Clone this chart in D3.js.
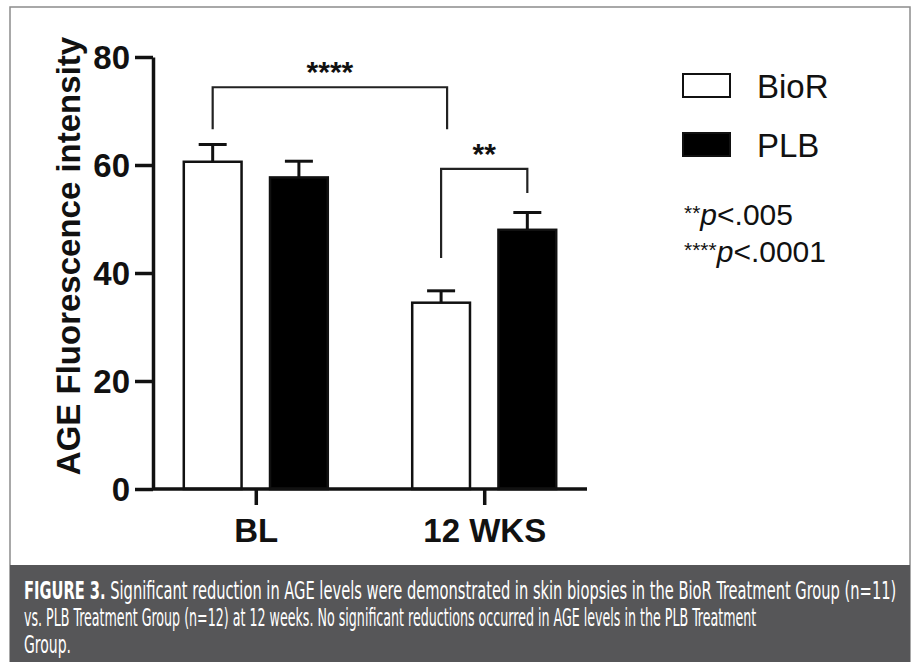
<!DOCTYPE html>
<html>
<head>
<meta charset="utf-8">
<script src="https://cdn.jsdelivr.net/npm/d3@7"></script>
<style>
  body { margin: 0; background: #fff; }
  text { font-family: "Liberation Sans", Arial, sans-serif; }
</style>
</head>
<body>
<svg id="chart" width="913" height="662"></svg>
<script>
// data
var groups = ["BL", "12 WKS"];
var series = ["BioR", "PLB"];
var means = {"BL": [60.6, 57.7], "12 WKS": [34.5, 48.0]};
var errors = {"BL": [3.2, 3.0], "12 WKS": [2.2, 3.2]};
var yTicks = [0, 20, 40, 60, 80];
var fills = ["#ffffff", "#000000"];

// significance brackets: [group, series] at each end, top and leg ends in data units
var brackets = [
  {from: ["BL", "BioR"], to: ["12 WKS", "BioR"], top: 74.4, leftEnd: 66.6, rightEnd: 66.6, label: "****"},
  {from: ["12 WKS", "BioR"], to: ["12 WKS", "PLB"], top: 59.3, leftEnd: 42.8, rightEnd: 54.8, label: "**"}
];
var pNotes = [["**", "p", "<.005"], ["****", "p", "<.0001"]];
var captionLines = [
  {bold: "FIGURE 3.", rest: " Significant reduction in AGE levels were demonstrated in skin biopsies in the BioR Treatment Group (n=11)", len: 873},
  {bold: "", rest: "vs. PLB Treatment Group (n=12) at 12 weeks. No significant reductions occurred in AGE levels in the PLB Treatment", len: 733},
  {bold: "", rest: "Group.", len: 47}
];

var svg = d3.select("#chart");

// outer frame and caption panel
svg.append("rect")
  .attr("x", 10).attr("y", 7)
  .attr("width", 900).attr("height", 660)
  .attr("fill", "#fff")
  .attr("stroke", "#8c8c8c")
  .attr("stroke-width", 1.5);
svg.append("rect")
  .attr("x", 10).attr("y", 565)
  .attr("width", 900).attr("height", 97)
  .attr("fill", "#565658");

var axisX = 153, axisRight = 587, baseY = 489, topY = 57;

var y = d3.scaleLinear().domain([0, 80]).range([baseY, topY]);
var x0 = d3.scalePoint().domain(groups).range([axisX, axisRight]).padding(0.45);
var x1 = d3.scaleBand().domain(series).range([-72, 72]).paddingInner(0.33);

function barCenter(g, s) { return x0(g) + x1(s) + x1.bandwidth() / 2; }

var rows = [];
groups.forEach(function(g) {
  series.forEach(function(s, i) {
    rows.push({group: g, series: s, i: i, value: means[g][i], err: errors[g][i]});
  });
});

// error bars (drawn first so the bar outline sits over the stem)
var eb = svg.append("g").attr("stroke", "#111").attr("stroke-width", 3);
eb.selectAll("line.stem")
  .data(rows).enter().append("line")
  .attr("class", "stem")
  .attr("x1", function(d) { return barCenter(d.group, d.series); })
  .attr("x2", function(d) { return barCenter(d.group, d.series); })
  .attr("y1", function(d) { return y(d.value); })
  .attr("y2", function(d) { return y(d.value + d.err); });
eb.selectAll("line.cap")
  .data(rows).enter().append("line")
  .attr("class", "cap")
  .attr("x1", function(d) { return barCenter(d.group, d.series) - 14; })
  .attr("x2", function(d) { return barCenter(d.group, d.series) + 14; })
  .attr("y1", function(d) { return y(d.value + d.err); })
  .attr("y2", function(d) { return y(d.value + d.err); });

// bars
svg.selectAll("rect.bar")
  .data(rows).enter().append("rect")
  .attr("class", "bar")
  .attr("x", function(d) { return x0(d.group) + x1(d.series); })
  .attr("width", x1.bandwidth())
  .attr("y", function(d) { return y(d.value); })
  .attr("height", function(d) { return baseY - y(d.value); })
  .attr("fill", function(d) { return fills[d.i]; })
  .attr("stroke", "#111")
  .attr("stroke-width", 2.5);

// axes
var yAxis = svg.append("g")
  .attr("transform", "translate(" + axisX + ",0)")
  .call(d3.axisLeft(y).tickValues(yTicks).tickSize(18).tickSizeOuter(0).tickPadding(5));
var xAxis = svg.append("g")
  .attr("transform", "translate(0," + baseY + ")")
  .call(d3.axisBottom(x0).tickSize(16).tickSizeOuter(0).tickPadding(9));
xAxis.select(".domain").attr("d", "M" + axisX + ",0H" + axisRight);

[yAxis, xAxis].forEach(function(a) {
  a.select(".domain").attr("stroke", "#111").attr("stroke-width", 3.5);
  a.selectAll(".tick line").attr("stroke", "#111").attr("stroke-width", 3.5);
  a.selectAll(".tick text")
    .attr("fill", "#111")
    .style("font-size", "33px")
    .style("font-weight", "bold")
    .style("font-family", "'Liberation Sans', Arial, sans-serif");
});
yAxis.selectAll(".tick text").attr("dy", "0.35em");
xAxis.selectAll(".tick text").attr("dy", "0.85em");

svg.append("text")
  .attr("transform", "translate(80," + (y(40) - 17) + ") rotate(-90)")
  .attr("text-anchor", "middle")
  .style("font-size", "33px")
  .style("font-weight", "bold")
  .attr("fill", "#111")
  .text("AGE Fluorescence intensity");

// brackets
brackets.forEach(function(b) {
  var xa = barCenter(b.from[0], b.from[1]);
  var xb = barCenter(b.to[0], b.to[1]);
  if (b.label === "****") xb += 6;
  svg.append("path")
    .attr("d", "M" + xa + "," + y(b.leftEnd) + "V" + y(b.top) + "H" + xb + "V" + y(b.rightEnd))
    .attr("fill", "none")
    .attr("stroke", "#222")
    .attr("stroke-width", 2.2);
  svg.append("text")
    .attr("x", (xa + xb) / 2)
    .attr("y", y(b.top) - 5)
    .attr("text-anchor", "middle")
    .style("font-size", "30px")
    .style("font-weight", "bold")
    .attr("fill", "#111")
    .text(b.label);
});

// legend
var legend = svg.append("g");
series.forEach(function(s, i) {
  legend.append("rect")
    .attr("x", 683).attr("y", 74 + i * 59)
    .attr("width", 47).attr("height", 23)
    .attr("fill", fills[i])
    .attr("stroke", "#111")
    .attr("stroke-width", 2);
  legend.append("text")
    .attr("x", 757).attr("y", 98 + i * 59)
    .style("font-size", "33px")
    .attr("fill", "#111")
    .text(s);
});

// p-value notes
pNotes.forEach(function(n, i) {
  var t = svg.append("text")
    .attr("x", 684).attr("y", 225 + i * 37)
    .style("font-size", "30px")
    .attr("fill", "#111");
  t.append("tspan").style("font-size", "21px").attr("dy", -5).text(n[0]);
  t.append("tspan").style("font-style", "italic").attr("dy", 5).text(n[1]);
  t.append("tspan").text(n[2]);
});

// caption: condensed look by squeezing each line horizontally to its width
captionLines.forEach(function(c, i) {
  var t = svg.append("text")
    .attr("x", 0).attr("y", 0)
    .style("font-family", "'Liberation Sans Narrow', 'DejaVu Sans Condensed', 'Liberation Sans', sans-serif")
    .style("font-size", "24px")
    .attr("fill", "#fff");
  if (c.bold) t.append("tspan").style("font-weight", "bold").text(c.bold);
  t.append("tspan").text(c.rest);
  var w = t.node().getComputedTextLength();
  t.attr("transform", "translate(24," + (599 + i * 27) + ") scale(" + (c.len / w) + ",1)");
});
</script>
</body>
</html>
